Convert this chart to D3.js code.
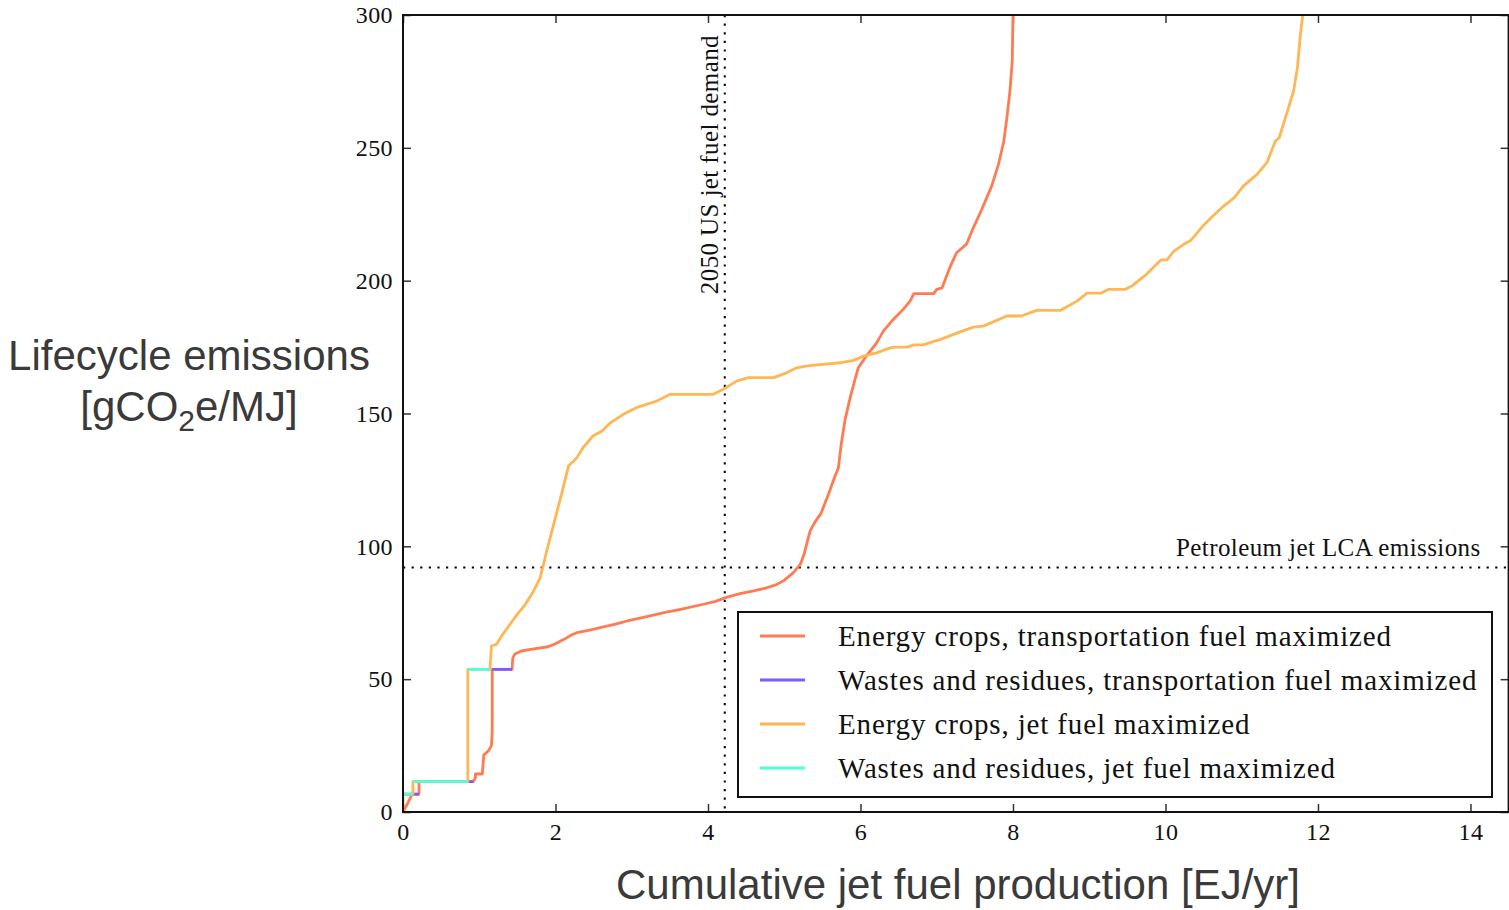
<!DOCTYPE html>
<html>
<head>
<meta charset="utf-8">
<script src="https://cdn.jsdelivr.net/npm/d3@7"></script>
<style>
  html, body { margin: 0; padding: 0; background: #fff; }
  svg { display: block; }
  .tick text { font-family: "Liberation Serif", "Times New Roman", serif; font-size: 24px; letter-spacing: 0.4px; fill: #111; }
  .tick line { stroke: #333; stroke-width: 1.5; }
</style>
</head>
<body>
<svg id="chart" width="1509" height="910"></svg>
<script>
// Supply curves: [cumulative production (EJ/yr), lifecycle emissions (gCO2e/MJ)]
const energyCropsTransport = [
  [0,0],[0.06,3.2],[0.12,6.7],[0.21,6.7],[0.21,11.4],[0.92,11.4],[0.95,13],[0.95,14.3],
  [1.04,14.3],[1.06,21.5],[1.12,23],[1.16,25],[1.17,30],[1.17,53.7],[1.43,53.7],[1.44,58],
  [1.47,59.5],[1.55,60.6],[1.7,61.3],[1.9,62.2],[2.0,63.3],[2.1,64.8],[2.2,66.5],[2.28,67.5],
  [2.45,68.5],[2.6,69.5],[2.8,70.8],[2.94,71.9],[3.2,73.5],[3.45,75.2],[3.64,76.3],[3.94,78.2],
  [4.1,79.3],[4.23,80.7],[4.42,82.2],[4.6,83.2],[4.77,84.4],[4.9,85.6],[4.99,87.0],[5.12,90.1],
  [5.21,93.2],[5.26,97],[5.30,101.5],[5.34,105.8],[5.40,109],[5.48,112.3],[5.58,119.6],
  [5.66,126],[5.71,129.5],[5.75,139],[5.80,148],[5.865,156],[5.93,163],[5.97,167.2],
  [6.08,171.8],[6.21,176.5],[6.30,181],[6.43,185.4],[6.56,189.2],[6.65,192.3],[6.70,195.1],
  [6.96,195.1],[7.0,196.7],[7.07,197.3],[7.18,205.5],[7.26,210.5],[7.39,213.7],[7.48,219.9],
  [7.59,226.8],[7.72,235.6],[7.81,243.8],[7.88,252.5],[7.92,261.3],[7.96,271.3],[7.99,282.6],
  [8.0,300],[8.01,320]
];

const energyCropsJet = [
  [0,0],[0,6.7],[0.13,6.7],[0.13,11.4],[0.85,11.4],[0.85,53.7],[1.14,53.7],[1.15,58],
  [1.16,62.5],[1.23,63.2],[1.3,66.5],[1.4,70.5],[1.5,74.5],[1.6,78],[1.7,82.5],[1.8,88.2],
  [1.885,98.2],[2.01,112],[2.10,122],[2.17,130.2],[2.28,133.3],[2.36,137.1],[2.49,141.5],
  [2.61,143.4],[2.72,146.5],[2.89,149.7],[3.06,152.2],[3.33,154.7],[3.50,157.2],[4.07,157.2],
  [4.20,159.1],[4.375,162.2],[4.53,163.5],[4.86,163.5],[5.03,165.3],[5.165,167.2],[5.30,167.9],
  [5.73,169.1],[5.91,170],[6.04,171.6],[6.21,172.8],[6.39,174.7],[6.45,175],[6.61,175],
  [6.70,175.8],[6.82,175.8],[7.05,177.9],[7.35,181.2],[7.48,182.5],[7.61,182.9],[7.92,186.7],
  [8.11,186.7],[8.31,188.8],[8.62,188.8],[8.84,192.3],[8.97,195.3],[9.15,195.3],[9.25,196.7],
  [9.47,196.7],[9.57,198.2],[9.75,202.4],[9.94,207.8],[10.02,207.8],[10.11,211.1],[10.27,214.2],
  [10.33,215.1],[10.50,220.9],[10.64,224.8],[10.76,228],[10.90,231.2],[11.02,235.6],[11.20,240],
  [11.33,244.4],[11.44,252.5],[11.49,253.7],[11.60,263.8],[11.68,271.4],[11.73,280.1],
  [11.77,292.7],[11.80,300],[11.81,320]
];

// Waste and residue feedstocks: flat steps [x start, x end, emissions]
const wastesTransport = [[0, 0.21, 6.7], [0.21, 0.92, 11.4], [1.17, 1.43, 53.7]];
const wastesJet = [[0, 0.13, 6.7], [0.13, 0.85, 11.4], [0.85, 1.14, 53.7]];

const seriesNames = [
  "Energy crops, transportation fuel maximized",
  "Wastes and residues, transportation fuel maximized",
  "Energy crops, jet fuel maximized",
  "Wastes and residues, jet fuel maximized"
];
const seriesColors = ["#ff7b52", "#7a5cff", "#ffb655", "#52ffd4"];

const xTicks = [0, 2, 4, 6, 8, 10, 12, 14];
const yTicks = [0, 50, 100, 150, 200, 250, 300];

const jetDemand2050 = 4.22;      // EJ/yr
const petroleumJetLCA = 92;      // gCO2e/MJ

// Layout
const margin = { left: 403, top: 15 };
const plotW = 1105.6, plotH = 797;
const serif = "Liberation Serif, Times New Roman, serif";
const sans = "Liberation Sans, Arial, sans-serif";

const svg = d3.select("#chart");

const x = d3.scaleLinear().domain([0, 14.5]).range([0, plotW]);
const y = d3.scaleLinear().domain([0, 300]).range([plotH, 0]);

const g = svg.append("g").attr("transform", `translate(${margin.left},${margin.top})`);

g.append("defs").append("clipPath").attr("id", "plotClip")
  .append("rect").attr("width", plotW).attr("height", plotH);

// Axes with inward ticks on all four sides
const fmt = d3.format("d");
g.append("g").attr("transform", `translate(0,${plotH})`)
  .call(d3.axisBottom(x).tickValues(xTicks).tickFormat(fmt).tickSize(-8).tickPadding(11))
  .call(a => a.select(".domain").remove());
g.append("g")
  .call(d3.axisLeft(y).tickValues(yTicks).tickFormat(fmt).tickSize(-8).tickPadding(10))
  .call(a => a.select(".domain").remove());
g.append("g")
  .call(d3.axisTop(x).tickValues(xTicks).tickFormat("").tickSize(-8))
  .call(a => a.select(".domain").remove());
g.append("g").attr("transform", `translate(${plotW},0)`)
  .call(d3.axisRight(y).tickValues(yTicks).tickFormat("").tickSize(-8))
  .call(a => a.select(".domain").remove());

// Reference lines
const dots = "2.2 6.4";
g.append("line")
  .attr("x1", x(jetDemand2050)).attr("x2", x(jetDemand2050))
  .attr("y1", 0).attr("y2", plotH)
  .attr("stroke", "#000").attr("stroke-width", 2).attr("stroke-dasharray", dots);
g.append("line")
  .attr("x1", 0).attr("x2", plotW)
  .attr("y1", y(petroleumJetLCA)).attr("y2", y(petroleumJetLCA))
  .attr("stroke", "#000").attr("stroke-width", 2).attr("stroke-dasharray", dots);

g.append("text")
  .attr("transform", `translate(${x(jetDemand2050) - 7},${20}) rotate(-90)`)
  .attr("text-anchor", "end")
  .attr("font-family", serif).attr("font-size", 25).attr("letter-spacing", 0.4)
  .attr("fill", "#111")
  .text("2050 US jet fuel demand");

g.append("text")
  .attr("x", plotW - 28).attr("y", y(petroleumJetLCA) - 12)
  .attr("text-anchor", "end")
  .attr("font-family", serif).attr("font-size", 25).attr("letter-spacing", 0.4)
  .attr("fill", "#111")
  .text("Petroleum jet LCA emissions");

// Curves
const line = d3.line().x(d => x(d[0])).y(d => y(d[1]));
const curves = g.append("g").attr("clip-path", "url(#plotClip)")
  .attr("fill", "none").attr("stroke-width", 2.8)
  .attr("stroke-linejoin", "round").attr("stroke-linecap", "butt");

curves.append("path").datum(energyCropsTransport).attr("d", line).attr("stroke", seriesColors[0]);
curves.selectAll(".wt").data(wastesTransport).join("line").attr("class", "wt")
  .attr("x1", d => x(d[0])).attr("x2", d => x(d[1]))
  .attr("y1", d => y(d[2])).attr("y2", d => y(d[2]))
  .attr("stroke", seriesColors[1]);
curves.append("path").datum(energyCropsJet).attr("d", line).attr("stroke", seriesColors[2]);
curves.selectAll(".wj").data(wastesJet).join("line").attr("class", "wj")
  .attr("x1", d => x(d[0])).attr("x2", d => x(d[1]))
  .attr("y1", d => y(d[2])).attr("y2", d => y(d[2]))
  .attr("stroke", seriesColors[3]);

// Frame
g.append("rect").attr("width", plotW).attr("height", plotH)
  .attr("fill", "none").attr("stroke", "#111").attr("stroke-width", 2);

// Legend
const legend = svg.append("g").attr("transform", "translate(738,612)");
legend.append("rect").attr("width", 754).attr("height", 185)
  .attr("fill", "#fff").attr("stroke", "#111").attr("stroke-width", 2);
const rows = legend.selectAll(".row").data(seriesNames).join("g")
  .attr("class", "row")
  .attr("transform", (d, i) => `translate(0,${24 + i * 44})`);
rows.append("line").attr("x1", 22).attr("x2", 67)
  .attr("stroke", (d, i) => seriesColors[i]).attr("stroke-width", 2.8);
rows.append("text").attr("x", 100).attr("dy", "0.33em")
  .attr("font-family", serif).attr("font-size", 29).attr("letter-spacing", 0.85)
  .attr("fill", "#111")
  .text(d => d);

// Axis titles
svg.append("text").attr("x", 189).attr("y", 370)
  .attr("text-anchor", "middle").attr("font-family", sans).attr("font-size", 42).attr("fill", "#3a3a3a")
  .text("Lifecycle emissions");
const yl2 = svg.append("text").attr("x", 189).attr("y", 421)
  .attr("text-anchor", "middle").attr("font-family", sans).attr("font-size", 42).attr("fill", "#3a3a3a");
yl2.append("tspan").text("[gCO");
yl2.append("tspan").attr("font-size", 30).attr("dy", 10).text("2");
yl2.append("tspan").attr("dy", -10).text("e/MJ]");

svg.append("text").attr("x", 958).attr("y", 899)
  .attr("text-anchor", "middle").attr("font-family", sans).attr("font-size", 42).attr("fill", "#3a3a3a")
  .text("Cumulative jet fuel production [EJ/yr]");
</script>
</body>
</html>
